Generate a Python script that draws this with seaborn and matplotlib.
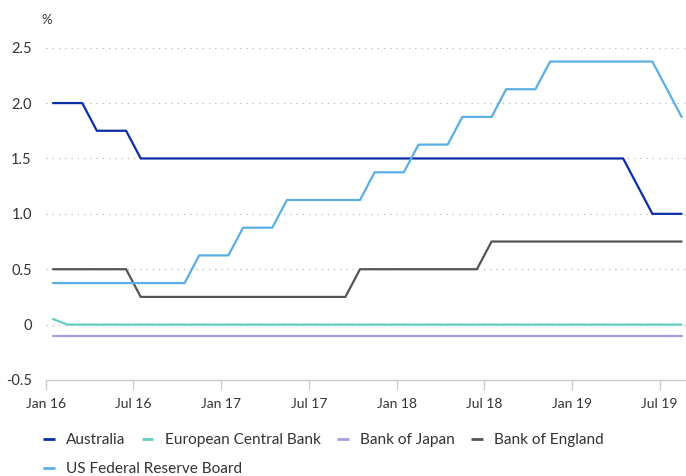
import numpy as np
import pandas as pd
import matplotlib
matplotlib.use("Agg")
import matplotlib.pyplot as plt
import seaborn as sns
from matplotlib.lines import Line2D

# Monthly data, Jan 16 .. Aug 19 (44 months)
months = pd.date_range("2016-01-01", "2019-08-01", freq="MS").strftime("%b %y").tolist()

australia = [2.0]*3 + [1.75]*3 + [1.5]*34 + [1.25] + [1.0]*3
ecb = [0.05] + [0.0]*43
boj = [-0.1]*44
boe = [0.5]*6 + [0.25]*15 + [0.5]*9 + [0.75]*14
fed = ([0.375]*10 + [0.625]*3 + [0.875]*3 + [1.125]*6 + [1.375]*3 +
       [1.625]*3 + [1.875]*3 + [2.125]*3 + [2.375]*8 + [2.125] + [1.875])

series_names = ["Australia", "European Central Bank", "Bank of Japan",
                "Bank of England", "US Federal Reserve Board"]
series_values = [australia, ecb, boj, boe, fed]
colors = ["#0a2ea6", "#62cfc0", "#a99de0", "#555555", "#5aafe3"]

tick_labels = ["Jan 16", "Jul 16", "Jan 17", "Jul 17", "Jan 18", "Jul 18", "Jan 19", "Jul 19"]
y_ticks = [-0.5, 0, 0.5, 1.0, 1.5, 2.0, 2.5]
y_tick_labels = ["-0.5", "0", "0.5", "1.0", "1.5", "2.0", "2.5"]

rows = []
for name, vals in zip(series_names, series_values):
    for i, v in enumerate(vals):
        rows.append({"idx": i, "month": months[i], "rate": v, "bank": name})
df = pd.DataFrame(rows)

sns.set_theme(style="white")
plt.rcParams["font.family"] = ["Lato", "DejaVu Sans"]

fig = plt.figure(figsize=(6.86, 4.76), dpi=100)
ax = fig.add_axes([0.0666, 0.2017, 0.9334, 0.6981])

sns.lineplot(data=df, x="idx", y="rate", hue="bank", hue_order=series_names,
             palette=colors, linewidth=1.6, ax=ax, legend=False)

ax.set_xlim(-0.5, 43.3)
ax.set_ylim(-0.5, 2.5)
ax.set_xticks([-0.5 + 6*k for k in range(len(tick_labels))])
ax.set_xticklabels(tick_labels, fontsize=10, color="#333333")
ax.set_yticks(y_ticks)
ax.set_yticklabels(y_tick_labels, fontsize=10.5, color="#333333")
ax.set_xlabel("")
ax.set_ylabel("")

for yv in y_ticks[1:]:
    ax.axhline(yv, color="#bbbbbb", linestyle=(0, (1, 4)), linewidth=0.9, zorder=0)

for s in ["top", "right", "left"]:
    ax.spines[s].set_visible(False)
ax.spines["bottom"].set_color("#cccccc")
ax.spines["bottom"].set_linewidth(1.0)
ax.tick_params(axis="x", length=7, color="#cccccc", width=1.0, pad=6, direction="out", bottom=True)
ax.tick_params(axis="y", length=0, pad=10)

fig.text(0.0685, 0.957, "%", fontsize=9.5, color="#333333", ha="center", va="center")

handles = [Line2D([0], [0], color=c, lw=2, solid_capstyle="butt") for c in colors]
common = dict(frameon=False, fontsize=11.1, handlelength=0.75, handletextpad=0.75,
              borderpad=0, borderaxespad=0, labelcolor="#333333")
leg1 = fig.legend(handles[:4], series_names[:4], loc="center left",
                  bbox_to_anchor=(0.063, 0.0756), ncol=4, columnspacing=1.05, **common)
leg2 = fig.legend(handles[4:], series_names[4:], loc="center left",
                  bbox_to_anchor=(0.063, 0.0147), ncol=1, **common)

fig.savefig("out.png", dpi=100)
